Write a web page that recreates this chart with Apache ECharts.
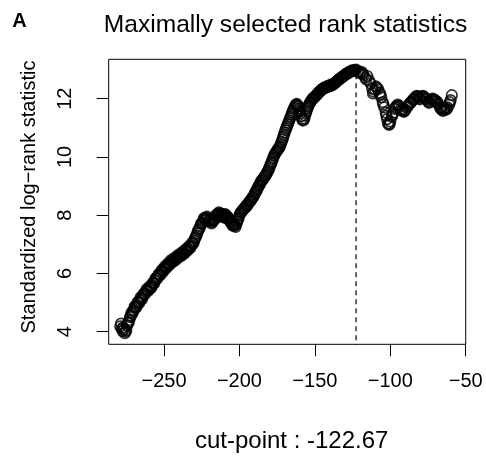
<!DOCTYPE html>
<html>
<head>
<meta charset="utf-8">
<script src="https://cdn.jsdelivr.net/npm/echarts@6/dist/echarts.min.js"></script>
<style>
html,body{margin:0;padding:0;background:#fff;}
#chart{width:486px;height:461px;}
</style>
</head>
<body>
<div id="chart"></div>
<script>
// [cut-point, standardized log-rank statistic]
const statByCutPoint = [
[-279,4.18],[-278.5,4.28],[-278,4.10],[-277.5,4.02],[-277,4.15],[-276.5,4.08],[-276,3.95],[-275.5,4.00],[-275,4.05],[-274.5,4.22],
[-274,4.30],[-273.5,4.30],[-273,4.40],[-272.5,4.50],[-272,4.55],[-271.5,4.66],[-271,4.62],[-270.5,4.70],[-270,4.75],[-269.5,4.86],
[-269,4.85],[-268.5,4.82],[-268,4.90],[-267.5,5.02],[-267,5.00],[-266.5,4.98],[-266,5.08],[-265.5,5.18],[-265,5.15],[-264.5,5.12],
[-264,5.22],[-263.5,5.30],[-263,5.32],[-262.5,5.30],[-262,5.38],[-261.5,5.46],[-261,5.42],[-260.5,5.40],[-260,5.48],[-259.5,5.56],
[-259,5.52],[-258.5,5.50],[-258,5.58],[-257.5,5.68],[-257,5.66],[-256.5,5.66],[-256,5.75],[-255.5,5.84],[-255,5.84],[-254.5,5.82],
[-254,5.90],[-253.5,5.98],[-253,5.96],[-252.5,5.94],[-252,6.03],[-251.5,6.12],[-251,6.08],[-250.5,6.06],[-250,6.15],[-249.5,6.24],
[-249,6.20],[-248.5,6.18],[-248,6.26],[-247.5,6.34],[-247,6.30],[-246.5,6.28],[-246,6.36],[-245.5,6.45],[-245,6.40],[-244.5,6.38],
[-244,6.44],[-243.5,6.52],[-243,6.48],[-242.5,6.45],[-242,6.52],[-241.5,6.60],[-241,6.55],[-240.5,6.54],[-240,6.58],[-239.5,6.67],
[-239,6.63],[-238.5,6.60],[-238,6.66],[-237.5,6.75],[-237,6.70],[-236.5,6.68],[-236,6.75],[-235.5,6.84],[-235,6.80],[-234.5,6.78],
[-234,6.84],[-233.5,6.93],[-233,6.90],[-232.5,6.88],[-232,6.95],[-231.5,7.05],[-231,7.02],[-230.5,7.04],[-230,7.12],[-229.5,7.20],
[-229,7.25],[-228.5,7.30],[-228,7.38],[-227.5,7.46],[-227,7.50],[-226.5,7.55],[-226,7.62],[-225.5,7.70],[-225,7.72],[-224.5,7.74],
[-224,7.82],[-223.5,7.90],[-223,7.88],[-222.5,7.86],[-222,7.92],[-221.5,7.95],[-221,7.88],[-220.5,7.80],[-220,7.82],[-219.5,7.86],
[-219,7.78],[-218.5,7.72],[-218,7.76],[-217.5,7.85],[-217,7.82],[-216.5,7.86],[-216,7.92],[-215.5,8.00],[-215,8.02],[-214.5,7.98],
[-214,8.06],[-213.5,8.10],[-213,8.05],[-212.5,7.96],[-212,8.00],[-211.5,8.05],[-211,7.98],[-210.5,7.92],[-210,7.97],[-209.5,8.04],
[-209,8.00],[-208.5,7.90],[-208,7.95],[-207.5,7.92],[-207,7.86],[-206.5,7.80],[-206,7.78],[-205.5,7.74],[-205,7.72],[-204.5,7.64],
[-204,7.66],[-203.5,7.70],[-203,7.64],[-202.5,7.60],[-202,7.70],[-201.5,7.78],[-201,7.85],[-200.5,7.90],[-200,8.00],[-199.5,8.06],
[-199,8.10],[-198.5,8.12],[-198,8.16],[-197.5,8.20],[-197,8.22],[-196.5,8.24],[-196,8.27],[-195.5,8.34],[-195,8.32],[-194.5,8.36],
[-194,8.40],[-193.5,8.46],[-193,8.48],[-192.5,8.50],[-192,8.55],[-191.5,8.60],[-191,8.62],[-190.5,8.66],[-190,8.72],[-189.5,8.78],
[-189,8.82],[-188.5,8.86],[-188,8.92],[-187.5,8.98],[-187,9.02],[-186.5,9.06],[-186,9.12],[-185.5,9.18],[-185,9.20],[-184.5,9.22],
[-184,9.27],[-183.5,9.32],[-183,9.34],[-182.5,9.38],[-182,9.42],[-181.5,9.48],[-181,9.52],[-180.5,9.58],[-180,9.65],[-179.5,9.72],
[-179,9.78],[-178.5,9.84],[-178,9.92],[-177.5,9.98],[-177,10.05],[-176.5,10.10],[-176,10.14],[-175.5,10.18],[-175,10.22],[-174.5,10.26],
[-174,10.30],[-173.5,10.33],[-173,10.38],[-172.5,10.46],[-172,10.52],[-171.5,10.60],[-171,10.68],[-170.5,10.76],[-170,10.84],[-169.5,10.92],
[-169,10.98],[-168.5,11.05],[-168,11.12],[-167.5,11.18],[-167,11.25],[-166.5,11.32],[-166,11.38],[-165.5,11.45],[-165,11.52],[-164.5,11.58],
[-164,11.65],[-163.5,11.70],[-163,11.76],[-162.5,11.80],[-162,11.82],[-161.5,11.78],[-161,11.74],[-160.5,11.66],[-160,11.58],[-159.5,11.50],
[-159,11.40],[-158.5,11.30],[-158,11.25],[-157.5,11.26],[-157,11.32],[-156.5,11.42],[-156,11.50],[-155.5,11.58],[-155,11.66],[-154.5,11.72],
[-154,11.78],[-153.5,11.84],[-153,11.88],[-152.5,11.92],[-152,11.96],[-151.5,12.00],[-151,12.02],[-150.5,12.04],[-150,12.06],[-149.5,12.10],
[-149,12.12],[-148.5,12.14],[-148,12.18],[-147.5,12.22],[-147,12.24],[-146.5,12.25],[-146,12.28],[-145.5,12.32],[-145,12.33],[-144.5,12.34],
[-144,12.36],[-143.5,12.39],[-143,12.38],[-142.5,12.38],[-142,12.40],[-141.5,12.44],[-141,12.42],[-140.5,12.42],[-140,12.44],[-139.5,12.48],
[-139,12.46],[-138.5,12.46],[-138,12.48],[-137.5,12.52],[-137,12.52],[-136.5,12.54],[-136,12.57],[-135.5,12.60],[-135,12.62],[-134.5,12.64],
[-134,12.66],[-133.5,12.69],[-133,12.70],[-132.5,12.71],[-132,12.74],[-131.5,12.77],[-131,12.78],[-130.5,12.79],[-130,12.82],[-129.5,12.85],
[-129,12.86],[-128.5,12.86],[-128,12.88],[-127.5,12.91],[-127,12.92],[-126.5,12.92],[-126,12.94],[-125.5,12.97],[-125,12.96],[-124.5,12.95],
[-124,12.97],[-123.3,12.98],[-122.67,13.00],[-121.5,12.95],[-120.3,12.88],[-119,12.92],[-118.4,12.86],[-117.8,12.82],[-116.5,12.72],[-116,12.66],
[-115.2,12.78],[-114,12.62],[-113,12.52],[-112,12.35],[-111.5,12.18],[-111,12.24],[-110,12.30],[-109.5,12.42],[-109,12.38],[-108,12.33],
[-107,12.20],[-106.5,12.14],[-106,12.05],[-105,11.88],[-104.5,11.80],[-104,11.70],[-103,11.52],[-102.6,11.42],[-102.2,11.30],[-101.5,11.15],
[-100.8,11.10],[-100.4,11.14],[-100,11.22],[-99,11.38],[-98.5,11.45],[-98,11.52],[-97,11.65],[-96.5,11.70],[-96,11.75],[-95,11.80],
[-94.5,11.76],[-94,11.72],[-93,11.65],[-92.5,11.60],[-92,11.58],[-91,11.55],[-90.5,11.58],[-90,11.62],[-89,11.70],[-88.5,11.74],
[-88,11.78],[-87,11.84],[-86.5,11.86],[-86,11.90],[-85,11.96],[-84.5,11.98],[-84,12.02],[-83,12.06],[-82.5,12.10],[-82,12.08],
[-81,12.05],[-80.5,11.98],[-80,12.00],[-79,12.06],[-78.5,12.10],[-78,12.08],[-77,12.04],[-76.5,12.00],[-76,11.98],[-75,11.92],
[-74.5,11.86],[-74,11.88],[-73,11.94],[-72.5,11.98],[-72,12.00],[-71,11.98],[-70.5,11.95],[-70,11.92],[-69,11.90],[-68.5,11.84],
[-68,11.80],[-67,11.70],[-66.5,11.66],[-66,11.62],[-65,11.58],[-64.5,11.62],[-64,11.66],[-63,11.62],[-62.5,11.66],[-62,11.70],
[-61,11.80],[-60.5,11.88],[-60,11.95],[-59.2,12.12]
];
const estimatedCut = -122.67;
const maxStat = 13.00;
const xTicks = [-250, -200, -150, -100, -50];
const yTicks = [4, 6, 8, 10, 12];
const mainTitle = 'Maximally selected rank statistics';
const yTitle = 'Standardized log\u2212rank statistic';
const xTitle = 'cut-point : -122.67';
const panelLetter = 'A';

const FONT = '"Liberation Sans", Arial, Helvetica, sans-serif';

const chart = echarts.init(document.getElementById('chart'), null, {renderer: 'canvas'});
chart.setOption({
  backgroundColor: '#fff',
  animation: false,
  grid: {
    left: 108.7, right: 20.3, top: 59.3, bottom: 116.7,
    show: true, borderColor: '#000', borderWidth: 1, backgroundColor: 'transparent'
  },
  xAxis: {
    type: 'value', min: -286.66, max: -50,
    axisLine: {show: false},
    splitLine: {show: false},
    axisTick: {show: true, length: 12, customValues: xTicks, lineStyle: {color: '#000', width: 1}},
    axisLabel: {
      customValues: xTicks, margin: 27, fontSize: 20, color: '#000', fontFamily: FONT,
      formatter: v => String(v).replace('-', '\u2212'),
      showMinLabel: true, showMaxLabel: true, hideOverlap: false
    }
  },
  yAxis: {
    type: 'value', min: 3.567, max: 13.353,
    axisLine: {show: false},
    splitLine: {show: false},
    axisTick: {show: true, length: 12, customValues: yTicks, lineStyle: {color: '#000', width: 1}},
    axisLabel: {
      customValues: yTicks, margin: 33, rotate: 90, fontSize: 20, color: '#000', fontFamily: FONT,
      showMinLabel: true, showMaxLabel: true, hideOverlap: false
    }
  },
  graphic: [
    {type: 'text', x: 19.5, y: 21, style: {text: panelLetter, font: 'bold 20px ' + FONT, fill: '#000', textAlign: 'center', textVerticalAlign: 'middle'}},
    {type: 'text', x: 285.5, y: 25, style: {text: mainTitle, font: '24.6px ' + FONT, fill: '#000', textAlign: 'center', textVerticalAlign: 'middle'}},
    {type: 'text', x: 291.7, y: 441, style: {text: xTitle, font: '24px ' + FONT, fill: '#000', textAlign: 'center', textVerticalAlign: 'middle'}},
    {type: 'text', x: 29, y: 197, rotation: Math.PI / 2, style: {text: yTitle, font: '20px ' + FONT, fill: '#000', textAlign: 'center', textVerticalAlign: 'middle'}}
  ],
  series: [
    {
      type: 'line',
      data: [[estimatedCut, 0], [estimatedCut, maxStat]],
      symbol: 'none',
      clip: true,
      lineStyle: {color: '#000', width: 1.2, type: [5, 4]},
      silent: true,
      z: 1
    },
    {
      type: 'scatter',
      data: statByCutPoint,
      symbol: 'circle',
      symbolSize: 10.5,
      itemStyle: {color: 'rgba(0,0,0,0)', borderColor: '#000', borderWidth: 1.7},
      silent: true,
      z: 2
    }
  ]
});
</script>
</body>
</html>
